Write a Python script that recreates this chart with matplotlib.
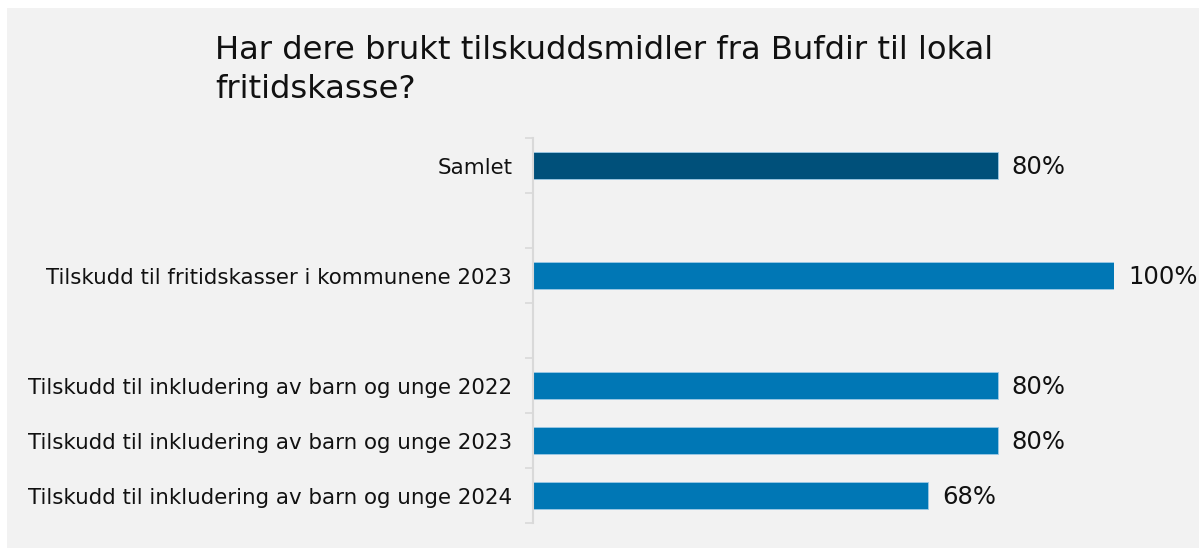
import matplotlib
matplotlib.use("Agg")
import matplotlib.pyplot as plt
from matplotlib.patches import Rectangle

title = "Har dere brukt tilskuddsmidler fra Bufdir til lokal\nfritidskasse?"
groups = [
    ["Samlet"],
    ["Tilskudd til fritidskasser i kommunene 2023"],
    ["Tilskudd til inkludering av barn og unge 2022",
     "Tilskudd til inkludering av barn og unge 2023",
     "Tilskudd til inkludering av barn og unge 2024"],
]
values = [80, 100, 80, 80, 68]
value_labels = ["80%", "100%", "80%", "80%", "68%"]
dark = "#00507a"
blue = "#0077b5"

# positions: one empty slot between groups
labels, pos, colors = [], [], []
p = 0
for gi, g in enumerate(groups):
    for lab in g:
        labels.append(lab)
        pos.append(p)
        colors.append(dark if gi == 0 else blue)
        p += 1
    p += 1
nslots = p - 1

W, H = 1199, 548
fig = plt.figure(figsize=(W / 100, H / 100), dpi=100, facecolor="white")
fig.patches.append(Rectangle((7 / W, 0), 1, 1 - 8 / H, transform=fig.transFigure,
                             facecolor="#f2f2f2", edgecolor="none", zorder=-5))

ax = fig.add_axes([533 / W, 1 - 523 / H, (1114 - 533) / W, (523 - 138) / H])
ax.set_zorder(2)
ax.set_facecolor("none")
ax.barh(pos, values, height=0.5, color=colors, edgecolor="#9cc9e6", linewidth=0.6)
ax.set_xlim(0, 100)
ax.set_ylim(nslots - 0.5, -0.5)

for y, v, t in zip(pos, values, value_labels):
    ax.annotate(t, (v, y), xytext=(10, -1), textcoords="offset points",
                va="center", ha="left", fontsize=17.5, color="#111111",
                annotation_clip=False)

ax.set_yticks(pos)
ax.set_yticklabels(labels, fontsize=15.4, color="#111111")
ax.tick_params(axis="y", which="major", length=0, pad=15)
ax.set_yticks([i - 0.5 for i in range(nslots + 1)], minor=True)
ax.tick_params(axis="y", which="minor", length=6, width=1.2, color="#d9d9d9")
ax.set_xticks([])
for s in ["top", "right", "bottom"]:
    ax.spines[s].set_visible(False)
ax.spines["left"].set_color("#d9d9d9")
ax.spines["left"].set_linewidth(1.5)

fig.text(215 / W, 1 - 35 / H, title, fontsize=23.2, color="#111111",
         ha="left", va="top", linespacing=1.32, zorder=3)

fig.savefig("out.png", dpi=100, facecolor="white")
